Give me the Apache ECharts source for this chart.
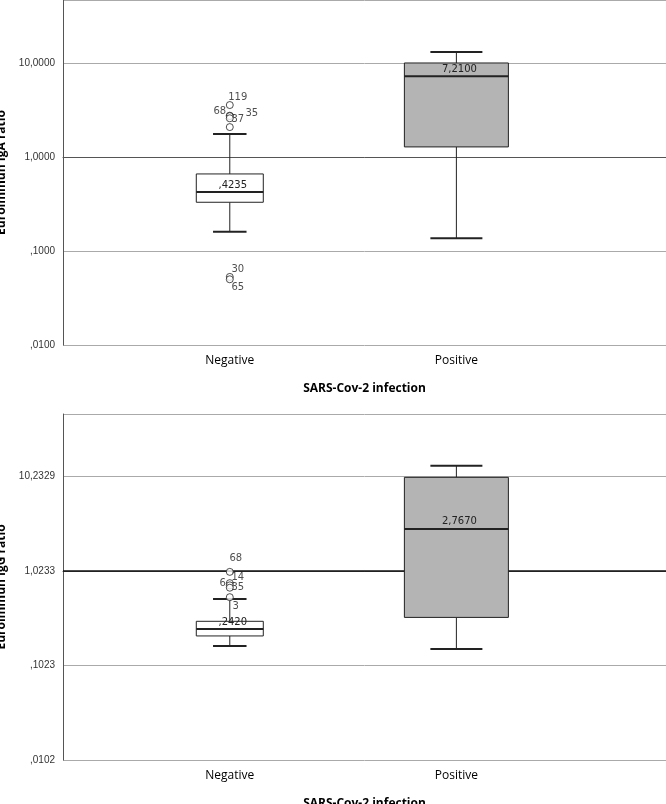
<!DOCTYPE html>
<html>
<head>
<meta charset="utf-8">
<script src="https://cdn.jsdelivr.net/npm/echarts@6/dist/echarts.min.js"></script>
<style>html,body{margin:0;padding:0;background:#fff}#main{width:666px;height:804px}</style>
</head>
<body>
<div id="main"></div>
<script>
var categories = ['Negative', 'Positive'];
// box stats: [lowWhisker, Q1, median, Q3, highWhisker]
var igaStats = [[0.16, 0.33, 0.4235, 0.66, 1.76], [0.137, 1.28, 7.21, 10.0, 13.1]];
var igaMedianLabels = [',4235', '7,2100'];
var igaOutliers = [[0, 3.57, '119'], [0, 2.75, '68'], [0, 2.72, '35'], [0, 2.58, '37'], [0, 2.08, ''], [0, 0.053, '30'], [0, 0.050, '65']];
var igaLabelOffsets = [[8, -8], [-10, -4], [22, -3], [8, 1], [0, 0], [8, -8], [8, 8]];
var igaTickLabels = [',0100', ',1000', '1,0000', '10,0000'];

var iggStats = [[0.164, 0.21, 0.2487, 0.30, 0.517], [0.153, 0.33, 2.85, 10.0, 13.3]];
var iggMedianLabels = [',2420', '2,7670'];
var iggOutliers = [[0, 1.0, '68'], [0, 0.76, '14'], [0, 0.72, '6'], [0, 0.68, '35'], [0, 0.54, '3']];
var iggLabelOffsets = [[6, -13], [8, -6], [-7, -2], [8, 0], [6, 9]];
var iggTickLabels = [',0102', ',1023', '1,0233', '10,2329'];
var iggBase = 1.0233;

var boxWidths = [67, 104];
var boxFills = ['#ffffff', '#b4b4b4'];

function lg(v, base) { return Math.log(v / base) / Math.LN10; }

function boxSeries(stats, labels, base, gi) {
  var d = stats.map(function (s, i) {
    return [i + 1].concat(s.map(function (v) { return lg(v, base); }));
  });
  return {
    type: 'custom', xAxisIndex: gi, yAxisIndex: gi, z: 5,
    data: d,
    renderItem: function (params, api) {
      var i = api.value(0);
      var x = api.coord([i, api.value(3)])[0];
      var y = function (k) { return api.coord([i, api.value(k)])[1]; };
      var w = boxWidths[i - 1], cw = w / 2;
      var st = { stroke: '#222', lineWidth: 1 };
      return {
        type: 'group', children: [
          { type: 'line', shape: { x1: x, y1: y(5), x2: x, y2: y(4) }, style: st },
          { type: 'line', shape: { x1: x, y1: y(2), x2: x, y2: y(1) }, style: st },
          { type: 'line', shape: { x1: x - cw / 2, y1: y(5), x2: x + cw / 2, y2: y(5) }, style: { stroke: '#222', lineWidth: 2 } },
          { type: 'line', shape: { x1: x - cw / 2, y1: y(1), x2: x + cw / 2, y2: y(1) }, style: { stroke: '#222', lineWidth: 2 } },
          { type: 'rect', shape: { x: x - w / 2, y: y(4), width: w, height: y(2) - y(4) }, style: { fill: boxFills[i - 1], stroke: '#222', lineWidth: 1 } },
          { type: 'line', shape: { x1: x - w / 2, y1: y(3), x2: x + w / 2, y2: y(3) }, style: { stroke: '#222', lineWidth: 2 } },
          { type: 'text', x: x + 3, y: y(3) - 2, style: { text: labels[i - 1], fill: '#222', font: '10px "DejaVu Sans"', align: 'center', verticalAlign: 'bottom' } }
        ]
      };
    }
  };
}

function outlierSeries(out, offs, base, gi) {
  return {
    type: 'scatter', xAxisIndex: gi, yAxisIndex: gi, z: 6,
    symbol: 'circle', symbolSize: 7,
    itemStyle: { color: '#fff', borderColor: '#222', borderWidth: 1 },
    data: out.map(function (o, k) {
      return { value: [o[0] + 1, lg(o[1], base)], name: o[2], label: { offset: offs[k] } };
    }),
    label: { show: true, formatter: '{b}', position: 'inside', color: '#222', fontSize: 10, fontFamily: 'DejaVu Sans' }
  };
}

function yAxis(gi, ticks, name, max) {
  return {
    type: 'value', gridIndex: gi, min: -2, max: max, interval: 1,
    name: name, nameLocation: 'middle', nameGap: 50,
    nameTextStyle: { fontWeight: 'bold', fontSize: 12, color: '#000', fontFamily: 'Open Sans' },
    axisLine: { show: true, lineStyle: { color: '#555' } },
    axisTick: { show: false },
    axisLabel: { color: '#333', fontSize: 10, fontFamily: 'Liberation Sans', formatter: function (v) { var k = Math.round(v) + 2; return ticks[k] || ''; } },
    splitLine: { show: true, lineStyle: { color: '#aaa' } }
  };
}

function xAxis(gi) {
  return {
    type: 'value', gridIndex: gi, min: 0.264, max: 2.925,
    name: 'SARS-Cov-2 infection', nameLocation: 'middle', nameGap: 38,
    nameTextStyle: { fontWeight: 'bold', fontSize: 12, color: '#000', fontFamily: 'Open Sans' },
    axisLine: { show: true, lineStyle: { color: '#555' } },
    axisTick: { show: false },
    splitLine: { show: false },
    axisLabel: { customValues: [1, 2], color: '#000', fontSize: 12, fontFamily: 'Open Sans', margin: 10,
      formatter: function (v) { return categories[Math.round(v) - 1] || ''; } }
  };
}

var chart = echarts.init(document.getElementById('main'));
chart.setOption({
  animation: false,
  grid: [
    { left: 63, right: 0, top: 0, height: 345, outerBoundsMode: 'none', containLabel: false },
    { left: 63, right: 0, top: 414, height: 346, outerBoundsMode: 'none', containLabel: false }
  ],
  xAxis: [xAxis(0), xAxis(1)],
  yAxis: [yAxis(0, igaTickLabels, 'Euroimmun IgA ratio', 1.67), yAxis(1, iggTickLabels, 'Euroimmun IgG ratio', 1.66)],
  series: [
    boxSeries(igaStats, igaMedianLabels, 1, 0),
    outlierSeries(igaOutliers, igaLabelOffsets, 1, 0),
    boxSeries(iggStats, iggMedianLabels, iggBase, 1),
    outlierSeries(iggOutliers, iggLabelOffsets, iggBase, 1),
    { type: 'line', xAxisIndex: 1, yAxisIndex: 1, data: [], z: 7,
      markLine: { silent: true, symbol: 'none', label: { show: false }, lineStyle: { color: '#111', width: 1.5, type: 'solid' }, data: [{ yAxis: 0 }] } }
  ]
});
</script>
</body>
</html>
